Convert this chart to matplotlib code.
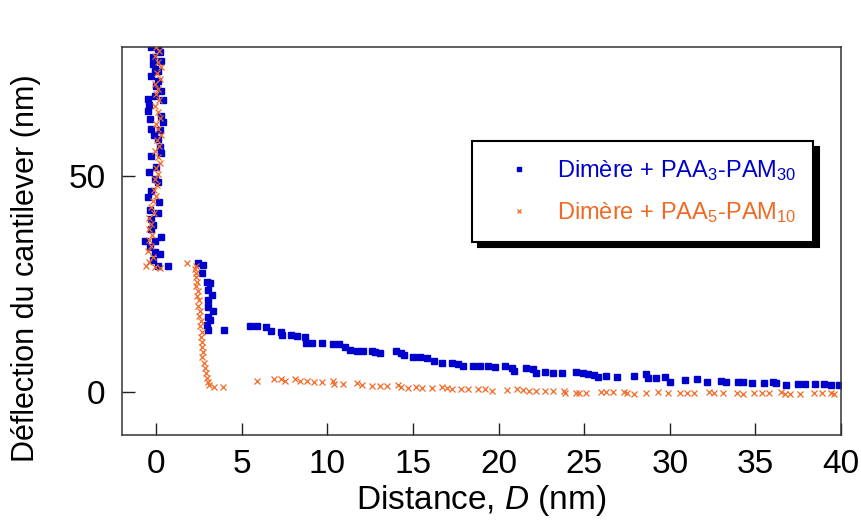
import matplotlib
matplotlib.use("Agg")
import matplotlib.pyplot as plt
import numpy as np

plt.rcParams["font.family"] = ["Liberation Sans", "DejaVu Sans"]
plt.rcParams["mathtext.fontset"] = "custom"
plt.rcParams["mathtext.rm"] = "Liberation Sans"
plt.rcParams["mathtext.it"] = "Liberation Sans:italic"

BLUE = "#0000CC"
ORANGE = "#F06A24"

# --- Dimère + PAA3-PAM30 (carrés bleus) ---
blue_wall_x = [-0.3, 0.1, 0.2, -0.2, -0.2, 0.1, -0.3, 0.1, 0.0, -0.5, 0.4, -0.1, -0.5, -0.35, 0.4,
               -0.3, 0.2, 0.1, 0.2, -0.3, 0.0, -0.05, 0.1, -0.3, -0.5, -0.35, 0.1, -0.3, -0.3, -0.65,
               -0.05, -0.35, 0.2, -0.2, 0.1, 0.7, 0.3, -0.1, 0.25, -0.4, 0.3, -0.15, 0.25, -0.45,
               0.15, -0.2, 0.3, -0.1]
blue_wall_y = [80.0, 79.6, 78.8, 77.7, 76.0, 74.4, 73.3, 72.1, 70.9, 67.9, 67.7, 68.6, 65.1, 63.3, 62.6,
               60.9, 60.7, 58.6, 56.7, 54.7, 52.1, 49.3, 48.6, 46.5, 45.1, 42.3, 41.6, 40.0, 37.7, 34.9,
               34.9, 33.5, 31.9, 30.7, 29.1, 29.1, 76.8, 75.0, 69.8, 66.5, 64.0, 59.5, 55.5, 51.0,
               44.0, 38.8, 36.0, 32.5]
blue_step_x = [2.42, 2.71, 2.65, 2.94, 3.12, 3.0, 3.23, 3.0, 3.0, 3.29, 3.0, 3.12, 2.94, 3.0, 3.93]
blue_step_y = [29.9, 29.4, 27.5, 25.5, 25.2, 23.6, 22.5, 21.3, 19.7, 18.8, 17.4, 16.7, 15.5, 14.4, 14.4]
blue_tail_x = [5.5, 5.9, 6.4, 6.7, 7.3, 7.35, 7.9, 8.2, 8.7, 8.75, 9.1, 9.7, 10.3, 10.7, 11.0, 11.3,
               11.7, 12.1, 12.6, 12.8, 13.1, 14.0, 14.3, 14.5, 15.0, 15.4, 15.8, 16.2, 16.7, 17.3,
               17.6, 17.9, 18.5, 18.9, 19.4, 19.8, 20.4, 20.8, 20.9, 21.6, 22.0, 22.2, 22.7, 23.2,
               23.7, 24.5, 24.9, 25.2, 25.6, 25.8, 26.3, 26.9, 27.9, 28.6, 28.7, 29.2, 29.7, 30.0,
               30.9, 31.6, 32.2, 33.0, 33.3, 34.0, 34.3, 34.8, 35.5, 36.0, 36.2, 36.8, 37.5, 37.9,
               38.5, 39.0, 39.4, 39.9]
blue_tail_y = [15.3, 15.2, 15.1, 14.2, 13.9, 13.3, 13.3, 13.0, 12.8, 11.4, 11.4, 11.4, 11.2, 11.1, 10.5,
               9.8, 9.5, 9.5, 9.5, 9.3, 9.1, 9.5, 9.1, 8.6, 8.1, 8.1, 7.9, 7.2, 6.7, 6.7, 6.5, 6.0,
               6.0, 6.0, 6.0, 5.8, 6.0, 5.6, 4.9, 5.6, 5.3, 4.4, 4.7, 4.4, 4.4, 4.7, 4.4, 4.2, 4.0,
               3.5, 3.7, 3.5, 3.7, 4.2, 3.3, 3.3, 3.5, 2.3, 2.8, 3.0, 2.3, 2.6, 2.4, 2.3, 2.3, 2.1,
               2.1, 2.3, 2.1, 1.6, 1.9, 1.9, 1.9, 1.9, 1.6, 1.6]

# --- Dimère + PAA5-PAM10 (croix orange) ---
orange_wall_x = [0.0, 0.15, -0.05, 0.1, 0.25, 0.05, 0.2, -0.1, 0.1, 0.0, 0.15, -0.05, 0.1, 0.2, 0.0,
                 0.1, 0.25, 0.05, 0.15, -0.05, 0.1, 0.2, 0.0, 0.1, -0.05, 0.05, -0.15, 0.0, -0.2, -0.3,
                 -0.15, -0.4, -0.3, -0.45, -0.25, -0.4, -0.3, -0.5, -0.2, -0.4, -0.6, -0.1, 0.2]
orange_wall_y = [80.0, 79.0, 77.8, 76.5, 75.3, 74.0, 72.6, 71.5, 70.2, 69.0, 67.6, 66.3, 65.0, 63.5,
                 62.2, 61.0, 59.7, 58.4, 57.0, 55.8, 54.5, 53.2, 52.0, 50.6, 49.4, 48.0, 46.8, 45.5,
                 44.2, 43.0, 41.6, 40.4, 39.0, 37.8, 36.5, 35.2, 33.9, 32.6, 31.4, 30.2, 29.2, 29.0, 28.8]
orange_step_x = [1.8, 2.3, 2.25, 2.35, 2.3, 2.4, 2.35, 2.45, 2.4, 2.5, 2.45, 2.55, 2.5, 2.6, 2.55,
                 2.65, 2.6, 2.7, 2.65, 2.75, 2.7, 2.8, 2.85, 2.9, 2.95, 3.05, 3.1, 3.35, 3.9]
orange_step_y = [30.0, 29.3, 28.4, 27.5, 26.6, 25.6, 24.5, 23.4, 22.3, 21.2, 20.0, 18.8, 17.6, 16.4,
                 15.2, 14.0, 12.8, 11.6, 10.4, 9.2, 8.0, 6.8, 5.6, 4.4, 3.3, 2.3, 1.5, 1.2, 1.2]
orange_tail_x = [5.9, 6.9, 7.3, 7.5, 8.1, 8.4, 8.8, 9.2, 9.7, 10.3, 10.4, 10.9, 11.7, 12.0, 12.6,
                 13.1, 13.5, 14.1, 14.3, 14.7, 15.2, 15.5, 16.1, 16.7, 17.0, 17.3, 17.8, 18.2, 18.8,
                 19.2, 19.6, 20.5, 21.1, 21.4, 21.8, 22.2, 22.7, 23.2, 23.8, 23.9, 24.5, 24.7, 25.1,
                 26.0, 26.3, 26.7, 27.3, 27.5, 27.9, 28.6, 29.3, 29.9, 30.6, 31.0, 31.4, 32.3, 32.6,
                 33.1, 33.9, 34.3, 34.9, 35.4, 35.8, 36.5, 36.7, 37.0, 37.6, 38.4, 38.9, 39.4, 39.6]
orange_tail_y = [2.6, 3.0, 3.0, 2.6, 3.0, 2.6, 2.6, 2.3, 2.3, 2.6, 1.9, 1.9, 2.1, 1.6, 1.4, 1.4, 1.4,
                 1.6, 1.2, 0.9, 1.2, 0.9, 0.9, 1.2, 0.9, 0.7, 0.7, 0.7, 0.7, 0.7, 0.2, 0.5, 0.7, 0.5,
                 0.2, 0.2, 0.2, 0.2, 0.2, -0.2, -0.2, -0.2, -0.2, 0.0, 0.0, 0.0, 0.0, -0.2, -0.5, -0.2,
                 0.0, -0.2, -0.2, -0.2, -0.2, 0.0, -0.2, -0.2, -0.2, -0.5, -0.2, -0.2, -0.2, 0.0, -0.5,
                 -0.5, -0.5, -0.2, -0.2, -0.2, -0.5]

blue_x = np.concatenate([blue_wall_x, blue_step_x, blue_tail_x])
blue_y = np.concatenate([blue_wall_y, blue_step_y, blue_tail_y])
orange_x = np.concatenate([orange_wall_x, orange_step_x, orange_tail_x])
orange_y = np.concatenate([orange_wall_y, orange_step_y, orange_tail_y])

fig = plt.figure(figsize=(8.62, 5.22), dpi=100)
ax = fig.add_axes([122 / 862, 1 - 435 / 522, 719 / 862, 388 / 522])

ax.plot(blue_x, blue_y, ls="none", marker="s", ms=5, color=BLUE, mec=BLUE,
        label=r"Dimère + PAA$_{3}$-PAM$_{30}$", zorder=2)
ax.plot(orange_x, orange_y, ls="none", marker="x", ms=4, mew=0.9, color=ORANGE,
        label=r"Dimère + PAA$_{5}$-PAM$_{10}$", zorder=3)

ax.set_xlim(-2, 40)
ax.set_ylim(-10, 80)
ax.set_xticks(np.arange(0, 41, 5))
ax.set_yticks([0, 50])
ax.tick_params(direction="in", length=9, width=1, labelsize=24, pad=10, colors="#222222")
ax.tick_params(axis="x", labelcolor="black")
ax.tick_params(axis="y", labelcolor="black", pad=12)
for s in ax.spines.values():
    s.set_linewidth(1.1)
    s.set_color("#333333")

ax.set_xlabel(r"Distance, $\mathit{D}$ (nm)", fontsize=24, labelpad=2)
ax.set_ylabel("Déflection du cantilever (nm)", fontsize=22)
ax.yaxis.set_label_coords(-0.112, 0.43)

leg = ax.legend(loc="upper left", bbox_to_anchor=(0.487, 0.757), borderaxespad=0,
                fontsize=17, frameon=True, fancybox=False, edgecolor="black",
                framealpha=1, shadow={"color": "black", "alpha": 1, "ox": 4, "oy": -4},
                markerscale=0.65, handlelength=2.6, handletextpad=0.3, borderpad=0.7,
                labelspacing=0.75, labelcolor="linecolor")
leg.get_frame().set_linewidth(1.5)

fig.savefig("out.png", dpi=100)
